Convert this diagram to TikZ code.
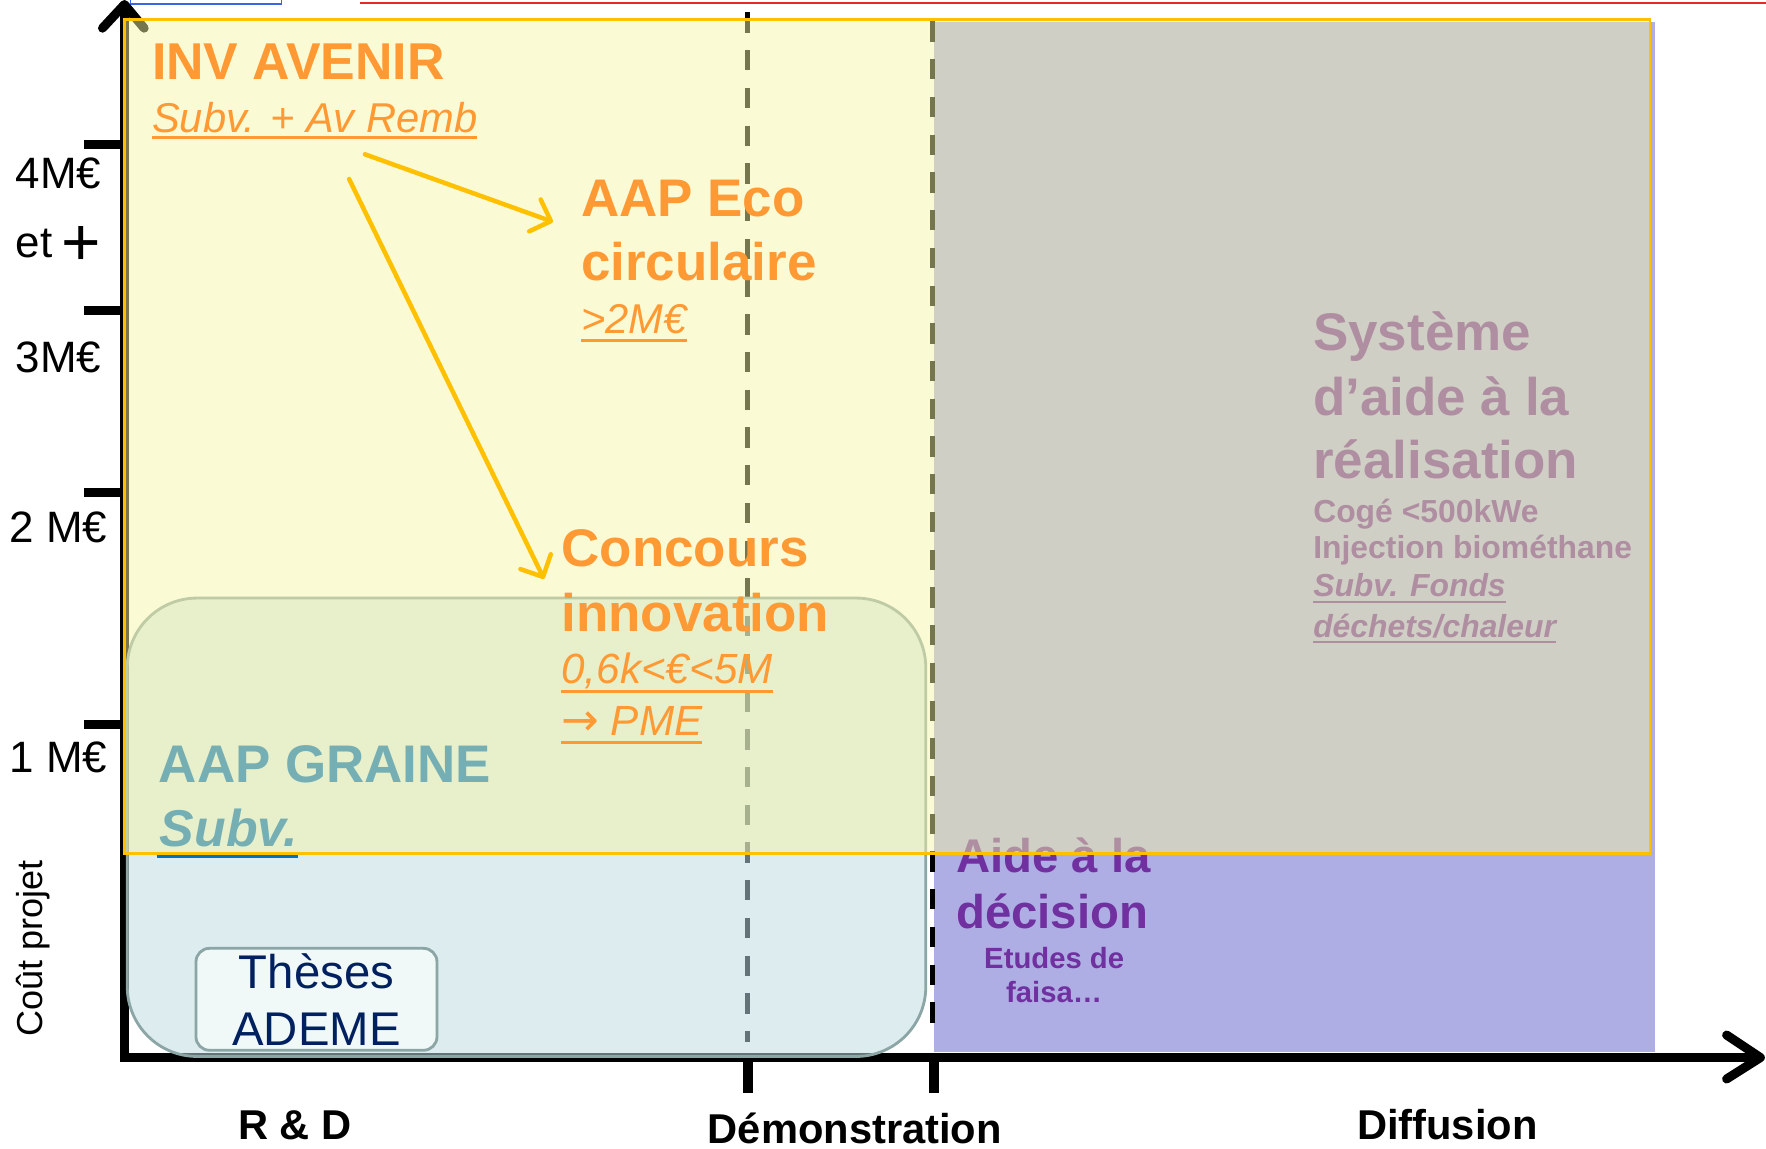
\documentclass[tikz,border=0pt]{standalone}
\usepackage{fontspec}
\setmainfont{Liberation Sans}
\newfontfamily\dejavu{DejaVu Sans}
\usetikzlibrary{arrows.meta}
\definecolor{orangeT}{RGB}{255,153,51}
\definecolor{goldC}{RGB}{255,192,0}
\definecolor{purpleR}{RGB}{174,174,228}
\definecolor{purpleT}{RGB}{112,48,160}
\definecolor{blueT}{RGB}{0,112,192}
\definecolor{layerC}{RGB}{245,245,165}
\definecolor{roundC}{RGB}{188,219,225}
\definecolor{roundB}{RGB}{140,165,165}
\definecolor{navyT}{RGB}{0,32,96}
\definecolor{thesF}{RGB}{240,248,248}
\definecolor{topBlue}{RGB}{60,100,230}
\definecolor{topRed}{RGB}{230,40,40}
\newcommand\myfs[1]{\fontsize{#1pt}{#1pt}\selectfont}
\begin{document}
\begin{tikzpicture}[x=1pt,y=-1pt,
  t/.style={inner sep=0pt,outer sep=0pt,anchor=base west},
  tc/.style={inner sep=0pt,outer sep=0pt,anchor=base},
  ax/.style={line width=8pt,black},
  chev/.style={line width=8pt,black,line cap=round,line join=round},
  tick/.style={line width=8pt,black},
  dsh/.style={line width=4.5pt,black,dash pattern=on 18pt off 15.5pt},
  arr/.style={draw=goldC,line width=4pt,line cap=round,-{Straight Barb[length=15pt,width=30pt,round]}},
  ul/.style={line width=2.5pt}
]
\useasboundingbox (0,0) rectangle (1568,1020);

% top artifacts
\draw[topBlue,line width=1.5pt] (116,-10) rectangle (250,3.5);
\draw[topRed,line width=1.5pt] (320,2.4) -- (1575,2.4);

% axes
\draw[ax,line join=miter] (110.5,5) -- (110.5,939) -- (1560,939);
\draw[chev] (91,25) -- (110.5,4) -- (128,25);
\draw[chev] (1533,919) -- (1563,939) -- (1533,958);
\foreach \yy in {128.5,276,437,643.5} \draw[tick] (75,\yy) -- (110.5,\yy);
\draw[line width=9pt] (664,939) -- (664,970);
\draw[line width=9pt] (829,939) -- (829,970);

% purple area
\fill[purpleR] (829,19.5) rectangle (1469,934);

% dashed separators
\draw[dsh] (664,11) -- (664,925);
\draw[dsh] (828,19) -- (828,922);

% texts lying under the translucent layer
\node[t,text=purpleT,font=\bfseries\myfs{47}] (sys1) at (1166,311) {Système};
\node[t,text=purpleT,font=\bfseries\myfs{47}] (sys2) at (1166,369) {d’aide à la};
\node[t,text=purpleT,font=\bfseries\myfs{47}] (sys3) at (1166,425) {réalisation};
\node[t,text=purpleT,font=\bfseries\myfs{28.3}] (sys4) at (1166,464) {Cogé <500kWe};
\node[t,text=purpleT,font=\bfseries\myfs{28.3}] (sys5) at (1166,496) {Injection biométhane};
\node[t,text=purpleT,font=\bfseries\itshape\myfs{28.3}] (sys6) at (1166,530) {Subv. Fonds};
\node[t,text=purpleT,font=\bfseries\itshape\myfs{28.3}] (sys7) at (1166,566) {déchets/chaleur};
\draw[purpleT,line width=2pt] ([yshift=-4.5pt]sys6.base west) -- ([yshift=-4.5pt]sys6.base east);
\draw[purpleT,line width=2pt] ([yshift=-4pt]sys7.base west) -- ([yshift=-4pt]sys7.base east);

\node[t,text=purpleT,font=\bfseries\myfs{42}] (aid1) at (849,775) {Aide à la};
\node[t,text=purpleT,font=\bfseries\myfs{42}] (aid2) at (849,824) {décision};
\node[tc,text=purpleT,font=\bfseries\myfs{26}] (aid3) at (936,860) {Etudes de};
\node[tc,text=purpleT,font=\bfseries\myfs{26}] (aid4) at (936,890) {faisa…};

% R&D rounded area
\draw[fill=roundC,fill opacity=0.53,draw=roundB,line width=2.5pt,rounded corners=62pt]
  (113,531) rectangle (822,938);

\node[t,text=blueT,font=\bfseries\myfs{47}] (gr1) at (141,695) {AAP GRAINE};
\node[t,text=blueT,font=\bfseries\itshape\myfs{46}] (gr2) at (142,752) {Subv.};
\draw[blueT,line width=2.2pt] (139,760.5) -- (265,760.5);

% translucent yellow layer
\fill[layerC,fill opacity=0.48] (110.5,17) rectangle (1465,757.5);
\draw[goldC,line width=2.5pt] (110.5,17) rectangle (1465,757.5);

% Theses box
\node[draw=roundB,fill=thesF,line width=2.5pt,rounded corners=12pt,minimum width=214pt,minimum height=90.5pt,inner sep=0pt] (thes) at (281,887.25) {};
\node[tc,text=navyT,font=\myfs{42}] (thes1) at (281,878) {Thèses};
\node[tc,text=navyT,font=\myfs{42}] (thes2) at (281,928) {ADEME};

% orange texts
\node[t,text=orangeT,font=\bfseries\myfs{46}] (inv1) at (135,70.4) {INV AVENIR};
\node[t,text=orangeT,font=\itshape\myfs{37}] (inv2) at (135,117.8) {Subv. + Av Remb};
\draw[orangeT,ul] ([yshift=-4.5pt]inv2.base west) -- ([yshift=-4.5pt]inv2.base east);

\node[t,text=orangeT,font=\bfseries\myfs{47}] (eco1) at (516,192.5) {AAP Eco};
\node[t,text=orangeT,font=\bfseries\myfs{47}] (eco2) at (516,248.7) {circulaire};
\node[t,text=orangeT,font=\itshape\myfs{37}] (eco3) at (516,296) {>2M€};
\draw[orangeT,ul] ([yshift=-6pt]eco3.base west) -- ([yshift=-6pt]eco3.base east);

\node[t,text=orangeT,font=\bfseries\myfs{47}] (con1) at (498.5,503) {Concours};
\node[t,text=orangeT,font=\bfseries\myfs{47}] (con2) at (498.5,561) {innovation};
\node[t,text=orangeT,font=\itshape\myfs{37.5}] (con3) at (498.5,607) {0,6k<€<5M};
\node[t,text=orangeT,font=\itshape\myfs{37.5}] (con4) at (498.5,653) {{\dejavu\myfs{40}→} PME};
\draw[orangeT,ul] ([yshift=-7pt]con3.base west) -- ([yshift=-7pt]con3.base east);
\draw[orangeT,ul] ([yshift=-6pt]con4.base west) -- ([yshift=-6pt]con4.base east);

% yellow arrows
\coordinate (a1s) at (324,137);
\coordinate (a1e) at (491,197);
\coordinate (a2s) at (310,159);
\coordinate (a2e) at (483,514);
\draw[arr] (a1s) -- (a1e);
\draw[arr] (a2s) -- (a2e);

% axis labels
\node[t,font=\myfs{39}] (y4) at (14,167) {4M€};
\node[t,font=\myfs{39}] (yet) at (14,229) {et};
\node[t,font=\myfs{60}] (yplus) at (55,236) {+};
\node[t,font=\myfs{39}] (y3) at (14,331) {3M€};
\node[t,font=\myfs{39}] (y2) at (8.5,482) {2 M€};
\node[t,font=\myfs{39}] (y1) at (8.5,686) {1 M€};
\node[inner sep=0pt,rotate=90,font=\myfs{32}] (cout) at (29.5,842) {Coût projet};

\node[tc,font=\bfseries\myfs{37}] (rd) at (262,1012) {R \& D};
\node[tc,font=\bfseries\myfs{37}] (demo) at (759,1015) {Démonstration};
\node[tc,font=\bfseries\myfs{37}] (diff) at (1285,1012) {Diffusion};
\end{tikzpicture}
\end{document}
